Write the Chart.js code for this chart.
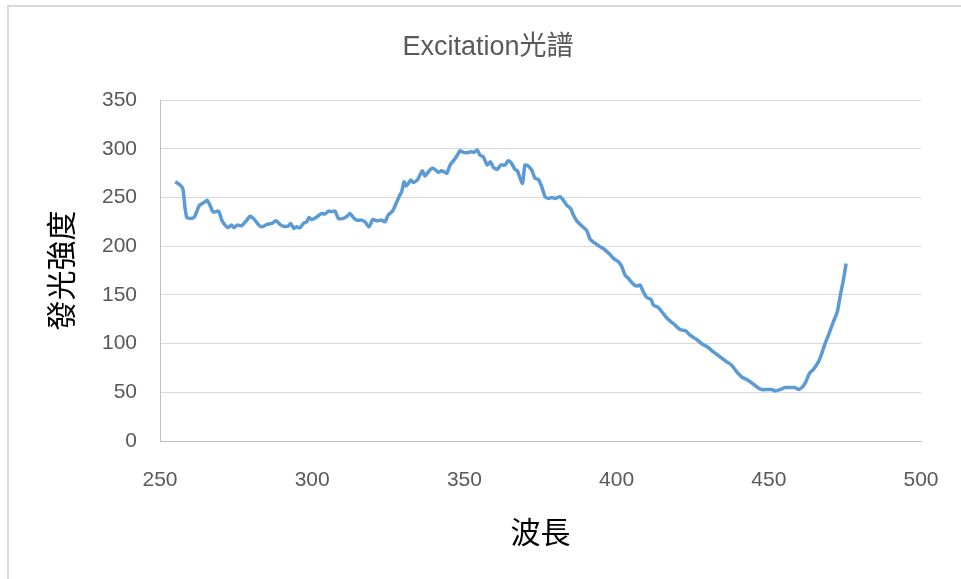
<!DOCTYPE html>
<html>
<head>
<meta charset="utf-8">
<script src="https://cdn.jsdelivr.net/npm/chart.js@4/dist/chart.umd.min.js"></script>
<style>
  html, body { margin: 0; padding: 0; background: #ffffff; overflow: hidden; }
  #wrap { position: relative; width: 961px; height: 579px; overflow: hidden; }
  #frame { position: absolute; left: 7px; top: 5px; width: 2000px; height: 2000px;
           border-left: 2px solid #d9d9d9; border-top: 2px solid #d9d9d9; }
  canvas { position: absolute; left: 0; top: 0; }
</style>
</head>
<body>
<div id="wrap">
  <div id="frame"></div>
  <canvas id="c" width="961" height="579"></canvas>
</div>
<script>
const chartTitle = 'Excitation光譜';
const xAxisTitle = '波長';
const yAxisTitle = '發光強度';
const xTicks = [250, 300, 350, 400, 450, 500];
const yTicks = [0, 50, 100, 150, 200, 250, 300, 350];

const wavelength = [
  255, 256.5, 257.5, 258.2, 258.8, 260, 261.3, 262, 263, 264.8,
  265.5, 266.4, 267.5, 269.2, 270.3, 271.4, 272.4, 273.5, 274.3, 275.4,
  276.8, 278.5, 279.6, 280.7, 282.3, 283.4, 285.1, 286.7, 288.1, 289.4,
  290.5, 292.1, 292.9, 294, 294.9, 296, 297.1, 298.2, 299, 299.8,
  301.5, 303.1, 304.2, 305.3, 306.4, 307.5, 308.6, 310.2, 311.5, 312.4,
  313.5, 314.6, 316.2, 317.3, 318.7, 319.9, 321.2, 322.8, 323.9, 325,
  326.4, 327.8, 328.8, 329.4, 330.2, 330.8, 331.6, 332.4, 333.2, 334.5,
  335.4, 336.2, 337, 338.2, 339.3, 340.3, 341.4, 342.5, 343.3, 344.2,
  345.3, 346.6, 347.7, 348.5, 349.6, 350.9, 352, 353.1, 354.2, 355.1,
  356.2, 357.5, 358.6, 359.5, 360.8, 361.9, 363.3, 364.4, 365.5, 366.6,
  367.4, 368.3, 369.1, 369.9, 371, 372.1, 373.2, 374.3, 375.4, 376.5,
  377.6, 378.7, 379.8, 381.4, 382.5, 383.6, 384.9, 385.8, 386.9, 388.5,
  390.2, 391.3, 392.9, 394.5, 395.6, 397.5, 399, 400.6, 401.7, 402.8,
  403.9, 405.5, 406.6, 407.7, 408.8, 409.9, 411.3, 412.1, 413.7, 415.3,
  417, 418.6, 420.8, 422.8, 424.1, 426.3, 427.9, 430.1, 431.8, 434,
  436.2, 437.8, 439.5, 441.1, 442.8, 444.4, 446.1, 447.7, 449.3, 451,
  452.1, 453.7, 455.4, 457, 458.6, 459.7, 461.1, 462.4, 463.3, 464.6,
  466.3, 467.4, 468.5, 469.6, 471.2, 472.5, 473.4, 474.5, 475.4
];
const intensity = [
  266, 263, 259, 240, 229.5, 228.5, 230, 235, 242, 245.5,
  247, 242, 235, 236, 226.7, 221.6, 219, 221.6, 219, 221.6,
  221, 226.7, 230.8, 228.5, 222.3, 219.8, 222.3, 223.3, 226, 222.3,
  220.5, 220.5, 223.3, 218.2, 219.8, 218.8, 223.3, 225, 229.5, 227.4,
  230, 233.6, 232.9, 236, 235.3, 236, 228.5, 228.5, 230.8, 233.6,
  229.5, 226.7, 226.7, 225, 219.8, 227.4, 226, 226.7, 225, 232,
  236, 245.5, 252.4, 255.8, 266, 261.7, 264.4, 267.8, 265.4, 267.8,
  273, 277.4, 272, 276.4, 279.8, 278.8, 275.7, 277.4, 276.4, 274.7,
  283.2, 288.4, 293.5, 297.9, 296.3, 295.9, 296.9, 296.3, 298.6, 293.5,
  291.8, 283.2, 286.6, 280.9, 278.8, 283.2, 283.2, 287.6, 285, 278.8,
  277.4, 269.6, 264.4, 283.2, 282.2, 278, 269.6, 268.5, 261, 250.7,
  249, 250, 249, 250.7, 247.3, 242.1, 238.7, 231.9, 226, 221,
  216, 207, 203, 199.5, 197.6, 192.5, 187.4, 184, 179, 170.2,
  166.8, 161, 159, 160, 153, 147.3, 145.3, 139.4, 137, 130.9,
  124.7, 120.6, 114.4, 113, 108.6, 104.2, 100.1, 96, 91.4, 86.3,
  81.2, 77.8, 70.9, 65.7, 63.1, 59.6, 55.5, 52.8, 52.8, 52.8,
  51.4, 52.8, 54.9, 54.9, 54.9, 52.8, 55.5, 62.4, 69.2, 73.3,
  81.2, 89.8, 100.1, 108.6, 122.3, 132.5, 147.9, 165.1, 182.2
];

const points = wavelength.map((w, i) => ({ x: w, y: intensity[i] }));

Chart.defaults.font.family = "'Liberation Sans', 'Noto Sans CJK TC', sans-serif";

new Chart(document.getElementById('c'), {
  type: 'line',
  data: {
    datasets: [{
      data: points,
      borderColor: '#5B9BD5',
      backgroundColor: '#5B9BD5',
      borderWidth: 3.5,
      pointRadius: 0,
      tension: 0.2,
      fill: false,
      yAxisID: 'y'
    }]
  },
  options: {
    responsive: false,
    animation: false,
    devicePixelRatio: 1,
    layout: { padding: { left: 15, right: 0, top: 0, bottom: 0 } },
    plugins: {
      legend: { display: false },
      tooltip: { enabled: false },
      title: {
        display: true,
        text: chartTitle,
        color: '#595959',
        font: { size: 27, weight: 'normal' },
        padding: { top: 31, bottom: 36.6 }
      }
    },
    scales: {
      x: {
        type: 'linear',
        min: xTicks[0],
        max: xTicks[xTicks.length - 1],
        afterBuildTicks: s => { s.ticks = xTicks.map(v => ({ value: v })); },
        afterFit: s => { s.height = 138; s.paddingRight = 0; s.paddingLeft = 0; },
        grid: { display: false, drawTicks: false },
        border: { display: true, color: '#bfbfbf', width: 1 },
        ticks: { color: '#595959', font: { size: 21 }, padding: 27, maxRotation: 0 },
        title: {
          display: true, text: xAxisTitle, color: '#000000',
          font: { size: 30, family: "'Noto Sans CJK TC', sans-serif" },
          padding: { top: 0, bottom: 29 }
        }
      },
      y: {
        type: 'linear',
        position: 'left',
        min: yTicks[0],
        max: yTicks[yTicks.length - 1],
        afterBuildTicks: s => { s.ticks = yTicks.map(v => ({ value: v })); },
        afterFit: s => { s.width = 145; },
        grid: { color: '#d9d9d9', lineWidth: 1, drawTicks: false },
        border: { display: true, color: '#bfbfbf', width: 1 },
        ticks: { color: '#595959', font: { size: 21 }, padding: 23 },
        title: {
          display: true, text: yAxisTitle, color: '#000000',
          font: { size: 30, family: "'Noto Sans CJK TC', sans-serif" },
          padding: { top: 28, bottom: 0 }
        }
      },
      yRight: {
        type: 'linear',
        position: 'right',
        display: true,
        afterFit: s => { s.width = 40; },
        grid: { display: false, drawTicks: false },
        border: { display: false },
        ticks: { display: false }
      }
    }
  }
});
</script>
</body>
</html>
